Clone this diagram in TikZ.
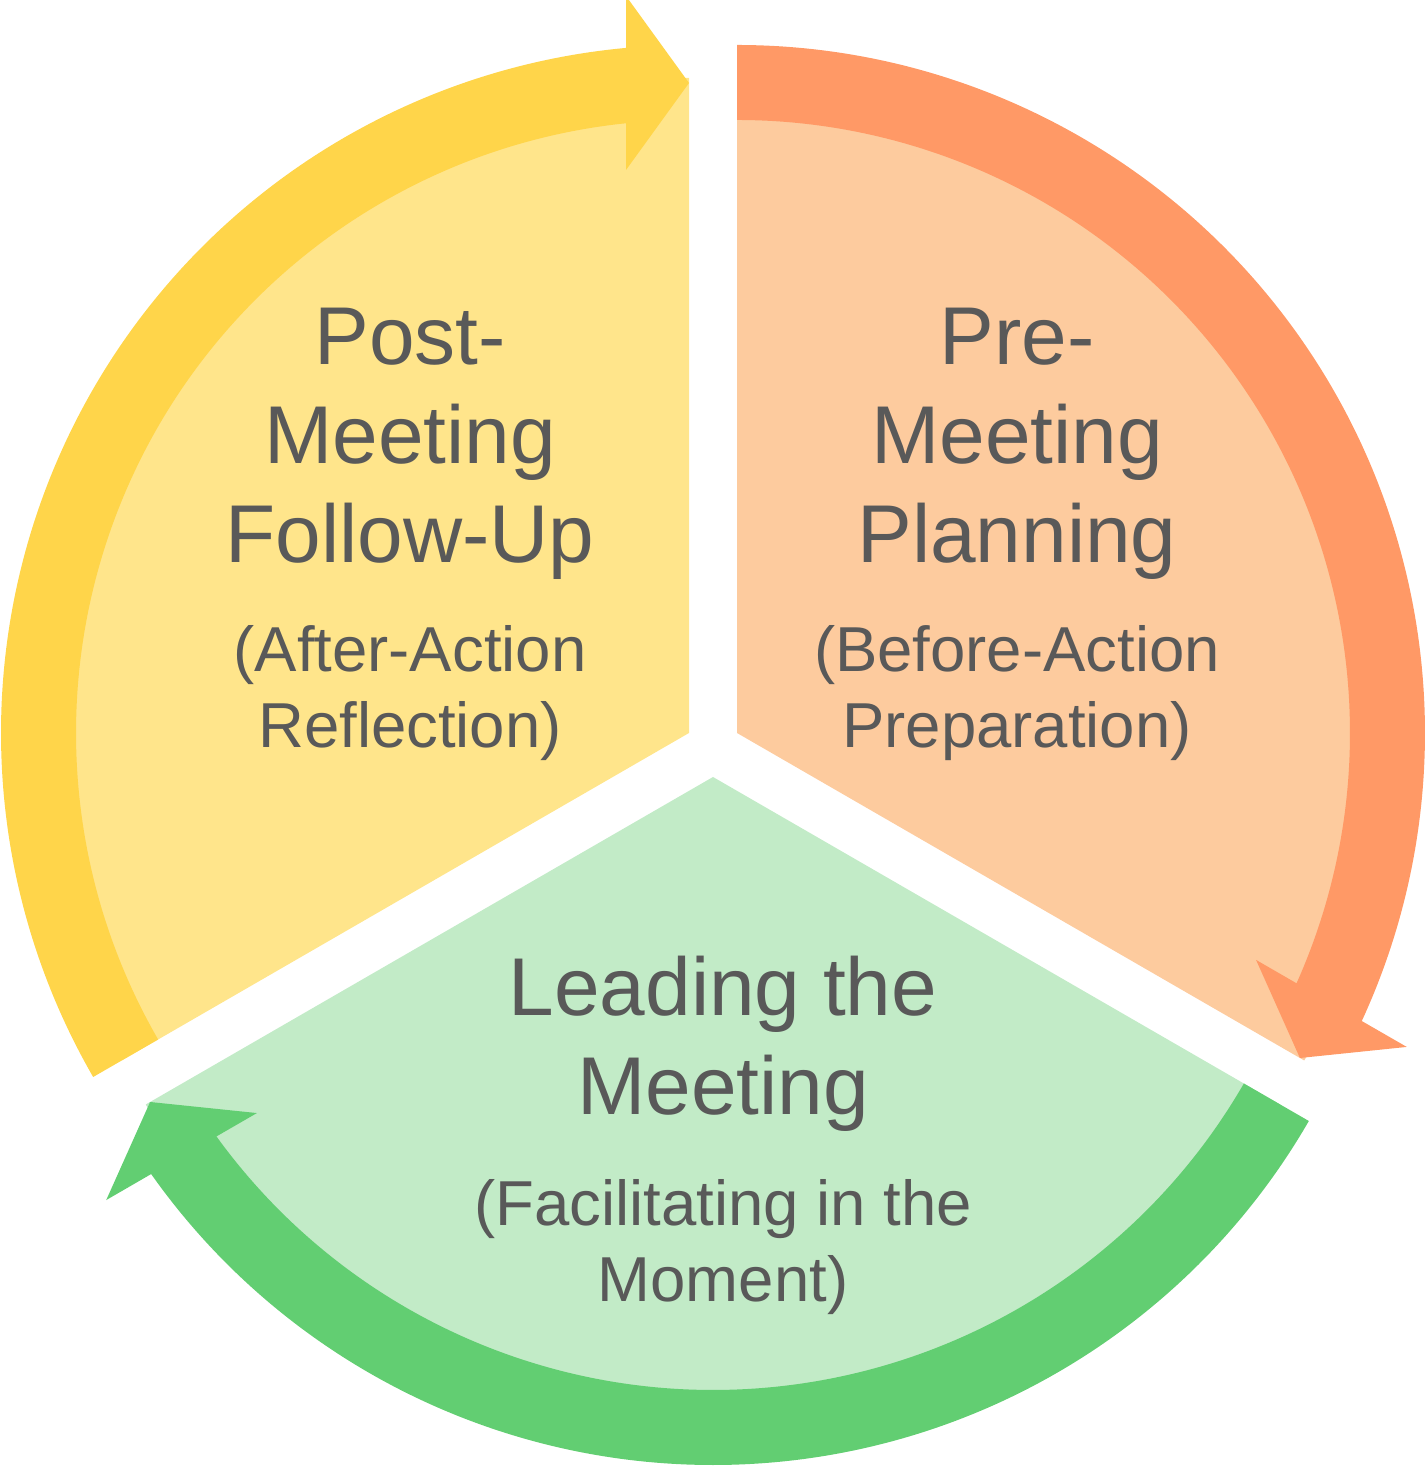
\documentclass[tikz,border=0pt]{standalone}
\usepackage{fontspec}
\setmainfont{Liberation Sans}
\definecolor{ybandc}{HTML}{FFD54A}
\definecolor{yfillc}{HTML}{FFE58B}
\definecolor{obandc}{HTML}{FF9966}
\definecolor{ofillc}{HTML}{FDCB9E}
\definecolor{gbandc}{HTML}{62CE72}
\definecolor{gfillc}{HTML}{C2EBC7}
\definecolor{txtc}{HTML}{595959}
\tikzset{
  titletext/.style={font=\fontsize{82}{99}\selectfont, text=txtc, align=center, anchor=base, inner sep=0pt},
  subtext/.style={font=\fontsize{63.5}{76}\selectfont, text=txtc, align=center, anchor=base, inner sep=0pt},
}
\newcommand\sectorfill{(0,0) -- (0:655) arc[start angle=0,end angle=120,radius=655] -- cycle}
\newcommand\arrowband{(120:613) -- (120:688) arc[start angle=120,end angle=5.25,radius=688] -- (737,63) -- (650,0) -- (563,63) -- (5.9:613) arc[start angle=5.9,end angle=120,radius=613] -- cycle}
\begin{document}
\begin{tikzpicture}[x=1pt,y=1pt]
\useasboundingbox (0,0) rectangle (1427,1467);
% yellow sector (post-meeting)
\begin{scope}[shift={(689,734)}, rotate=90]
  \fill[yfillc] \sectorfill;
  \fill[ybandc] \arrowband;
\end{scope}
% orange sector (pre-meeting)
\begin{scope}[shift={(737,734)}, rotate=-30]
  \fill[ofillc] \sectorfill;
  \fill[obandc] \arrowband;
\end{scope}
% green sector (leading)
\begin{scope}[shift={(713,690)}, rotate=210]
  \fill[gfillc] \sectorfill;
  \fill[gbandc] \arrowband;
\end{scope}
\node[titletext] (posttitle) at (410,904) {Post-\\Meeting\\Follow-Up};
\node[subtext] (postsub) at (410,719) {(After-Action\\Reflection)};
\node[titletext] (pretitle) at (1017,904) {Pre-\\Meeting\\Planning};
\node[subtext] (presub) at (1017,719) {(Before-Action\\Preparation)};
\node[titletext] (leadtitle) at (723,352) {Leading the\\Meeting};
\node[subtext] (leadsub) at (723,165) {(Facilitating in the\\Moment)};
\end{tikzpicture}
\end{document}
